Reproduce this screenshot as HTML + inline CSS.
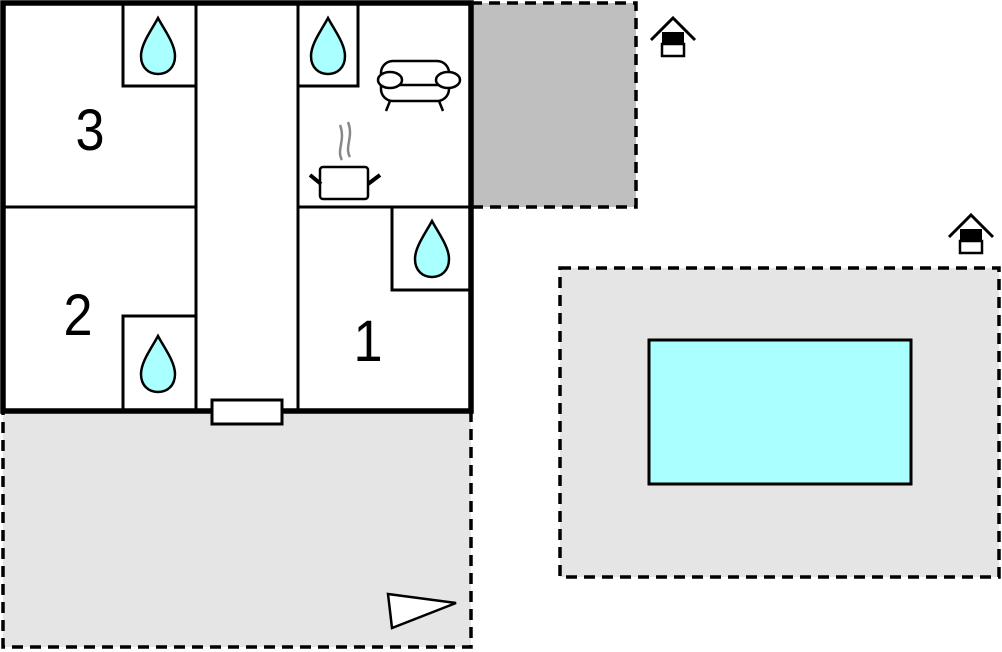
<!DOCTYPE html>
<html><head><style>body{margin:0;background:#fff}svg{display:block}</style></head><body>
<svg width="1002" height="652" viewBox="0 0 1002 652" xmlns="http://www.w3.org/2000/svg">
<defs>
<path id="drop" d="M0,-29 C-7,-16 -17,-3 -17,9 C-17,21 -9,27 0,27 C9,27 17,21 17,9 C17,-3 7,-16 0,-29 Z" fill="#aaffff" stroke="#000" stroke-width="2.5"/>
<g id="hse"><path d="M-22,2 L0,-20 L22,2" fill="none" stroke="#000" stroke-width="3"/><rect x="-11" y="-6" width="22" height="12" fill="#000"/><rect x="-11" y="6" width="22" height="12" fill="#fff" stroke="#000" stroke-width="2.5"/></g>
</defs>
<rect x="3" y="411" width="468" height="236" fill="#e5e5e5" stroke="#000" stroke-width="3.5" stroke-dasharray="11,7"/>
<rect x="471" y="3" width="165" height="204" fill="#bfbfbf" stroke="#000" stroke-width="3.5" stroke-dasharray="11,7"/>
<rect x="560" y="268" width="439" height="309" fill="#e5e5e5" stroke="#000" stroke-width="3.5" stroke-dasharray="11,7"/>
<rect x="649" y="340" width="262" height="144" fill="#aaffff" stroke="#000" stroke-width="3"/>
<rect x="3" y="3" width="468" height="408" fill="#fff"/>
<g stroke="#000" stroke-width="3" fill="none">
<line x1="196" y1="3" x2="196" y2="411"/><line x1="298" y1="3" x2="298" y2="411"/>
<line x1="3" y1="207" x2="196" y2="207"/><line x1="298" y1="207" x2="471" y2="207"/>
<rect x="123" y="3" width="73" height="83"/><rect x="298" y="3" width="60" height="83"/>
<rect x="392" y="207" width="79" height="83"/><rect x="123" y="316" width="73" height="95"/>
</g>
<rect x="3" y="3" width="468" height="408" fill="none" stroke="#000" stroke-width="5.5"/>
<rect x="212" y="400" width="70" height="24" fill="#fff" stroke="#000" stroke-width="3"/>
<use href="#drop" x="158" y="47"/><use href="#drop" x="328" y="47"/><use href="#drop" x="432" y="250"/><use href="#drop" x="158" y="365"/>
<g font-family="Liberation Sans, sans-serif" font-size="58" text-anchor="middle">
<text x="90" y="150" transform="translate(90,0) scale(0.9,1) translate(-90,0)">3</text>
<text x="78" y="335" transform="translate(78,0) scale(0.9,1) translate(-78,0)">2</text>
<text x="368" y="361" transform="translate(368,0) scale(0.9,1) translate(-368,0)">1</text></g>
<g stroke="#000" stroke-width="2.5" fill="#fff">
<rect x="381" y="61" width="68" height="40" rx="12"/>
<line x1="390" y1="101" x2="386" y2="111"/><line x1="439" y1="101" x2="443" y2="111"/>
<line x1="390" y1="85" x2="441" y2="85"/>
<ellipse cx="390" cy="80" rx="12" ry="8"/><ellipse cx="448" cy="80" rx="12" ry="8"/>
</g>
<g fill="none"><path d="M342,160 C336,150 346,140 340,125 M350,157 C344,147 354,137 348,122" stroke="#888" stroke-width="2.5"/>
<rect x="320" y="167" width="48" height="32" rx="3" fill="#fff" stroke="#000" stroke-width="2.5"/>
<line x1="310" y1="175" x2="321" y2="184" stroke="#000" stroke-width="4"/><line x1="380" y1="175" x2="368" y2="184" stroke="#000" stroke-width="4"/></g>
<polygon points="388,594 456,603 392,628" fill="#fff" stroke="#000" stroke-width="2.5"/>
<use href="#hse" x="673" y="38"/><use href="#hse" x="971" y="235"/>
</svg>
</body></html>
